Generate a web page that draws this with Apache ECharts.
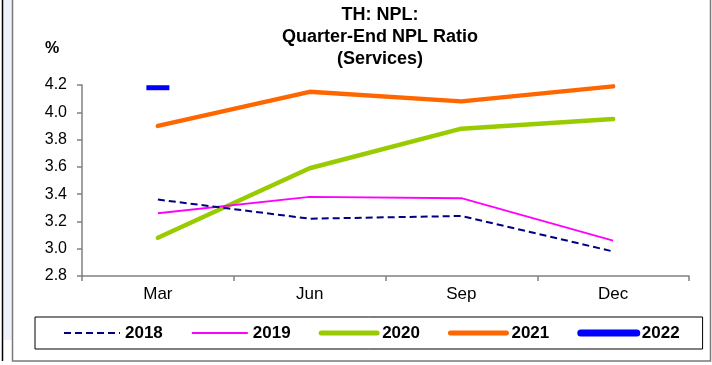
<!DOCTYPE html>
<html>
<head>
<meta charset="utf-8">
<script src="https://cdn.jsdelivr.net/npm/echarts@6/dist/echarts.min.js"></script>
<style>
  html, body { margin: 0; padding: 0; background: #fff; }
  #chart { width: 712px; height: 365px; }
</style>
</head>
<body>
<div id="chart"></div>
<script>
const categories = ['Mar', 'Jun', 'Sep', 'Dec'];
const yTicks = ['2.8', '3.0', '3.2', '3.4', '3.6', '3.8', '4.0', '4.2'];
const s2018 = [3.36, 3.22, 3.24, 2.98];
const s2019 = [3.26, 3.38, 3.37, 3.06];
const s2020 = [3.08, 3.59, 3.88, 3.95];
const s2021 = [3.90, 4.15, 4.08, 4.19];
const s2022 = [4.18, null, null, null];
const seriesNames = ['2018', '2019', '2020', '2021', '2022'];

const chart = echarts.init(document.getElementById('chart'), null, { renderer: 'canvas' });
const FONT = 'Arial, "Liberation Sans", sans-serif';

chart.setOption({
  animation: false,
  backgroundColor: '#ffffff',
  title: {
    text: 'TH: NPL:\nQuarter-End NPL Ratio\n(Services)',
    left: 380, top: 4, padding: 0, textAlign: 'center',
    textStyle: { fontFamily: FONT, fontSize: 18, fontWeight: 'bold', color: '#000', lineHeight: 22 }
  },
  graphic: [
    { type: 'rect', shape: { x: 3, y: 0, width: 9, height: 340 }, style: { fill: '#eef0fa' }, silent: true },
    { type: 'line', shape: { x1: 2.5, y1: 0, x2: 2.5, y2: 361 }, style: { stroke: '#000', lineWidth: 1.5 }, silent: true },
    { type: 'polyline', shape: { points: [[12.5, 0], [12.5, 361], [710.5, 361], [710.5, 0]] }, style: { stroke: '#7a7a7a', lineWidth: 1.5, fill: null }, silent: true },
    { type: 'text', left: 45, top: 41, style: { text: '%', font: 'bold 16px ' + FONT, fill: '#000' }, silent: true }
  ],
  grid: { left: 82, right: 23, top: 85, bottom: 89, containLabel: false },
  legend: {
    data: [
      { name: '2018' },
      { name: '2019' },
      { name: '2020', lineStyle: { width: 5 } },
      { name: '2021', lineStyle: { width: 5 } },
      { name: '2022', lineStyle: { width: 7 } }
    ],
    left: 35, top: 317,
    padding: [7, 23, 7, 28],
    itemGap: 28,
    itemWidth: 56, itemHeight: 14,
    borderColor: '#000', borderWidth: 1,
    backgroundColor: '#fff',
    itemStyle: { opacity: 0 },
    textStyle: { fontFamily: FONT, fontSize: 17, fontWeight: 'bold', color: '#000', lineHeight: 18 }
  },
  xAxis: {
    type: 'category',
    data: categories,
    boundaryGap: true,
    axisLine: { lineStyle: { color: '#808080', width: 1.5 } },
    axisTick: { show: true, inside: false, length: 5, alignWithLabel: false, lineStyle: { color: '#808080', width: 1.5 } },
    axisLabel: { fontFamily: FONT, fontSize: 17, color: '#000', margin: 10 },
    splitLine: { show: false }
  },
  yAxis: {
    type: 'value',
    min: 2.8, max: 4.2, interval: 0.2,
    axisLine: { show: true, lineStyle: { color: '#808080', width: 1.5 } },
    axisTick: { show: true, length: 5, lineStyle: { color: '#808080', width: 1.5 } },
    axisLabel: {
      fontFamily: FONT, fontSize: 16, color: '#000', margin: 15,
      formatter: function (v) { const i = Math.round((v - 2.8) / 0.2); return yTicks[i] !== undefined ? yTicks[i] : v.toFixed(1); }
    },
    splitLine: { show: false }
  },
  series: [
    { name: '2018', type: 'line', data: s2018, symbol: 'none', color: '#000080',
      lineStyle: { color: '#000080', width: 2, type: [7, 4] }, z: 5 },
    { name: '2019', type: 'line', data: s2019, symbol: 'none', color: '#ff00ff',
      lineStyle: { color: '#ff00ff', width: 1.8 }, z: 4 },
    { name: '2020', type: 'line', data: s2020, symbol: 'none', color: '#99cc00',
      lineStyle: { color: '#99cc00', width: 4.5, cap: 'round' }, z: 3 },
    { name: '2021', type: 'line', data: s2021, symbol: 'none', color: '#ff6600',
      lineStyle: { color: '#ff6600', width: 4.5, cap: 'round' }, z: 3 },
    { name: '2022', type: 'line', data: s2022, symbol: 'rect', symbolSize: [23, 5], showSymbol: true,
      color: '#0000ff', itemStyle: { color: '#0000ff', borderWidth: 0 },
      lineStyle: { color: '#0000ff', width: 5, cap: 'round' }, z: 6 }
  ]
});
</script>
</body>
</html>
